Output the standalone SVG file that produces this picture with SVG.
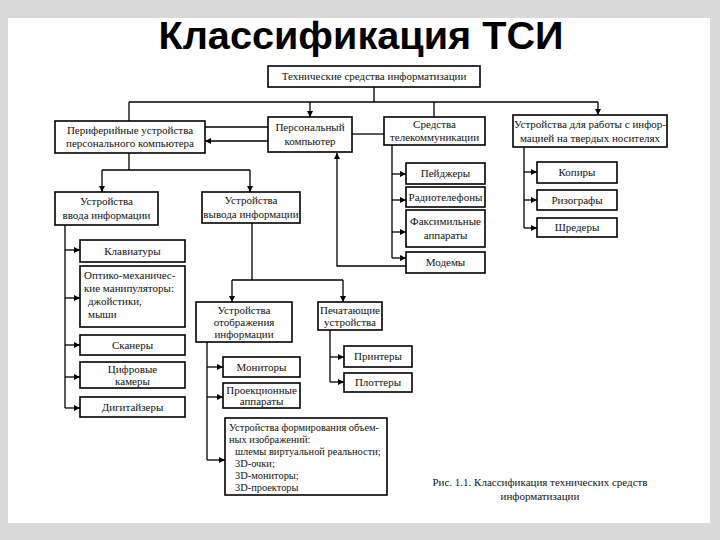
<svg xmlns="http://www.w3.org/2000/svg" width="720" height="540" viewBox="0 0 720 540">
<defs>
<marker id="ar" markerWidth="6" markerHeight="6" refX="6" refY="3" orient="auto" markerUnits="userSpaceOnUse"><path d="M0,0 L6,3 L0,6 z" fill="#000"/></marker>
<style>
.b{fill:#fff;stroke:#000;stroke-width:1.6}
.t{font-family:"Liberation Serif","Times New Roman",serif;font-size:11px;fill:#111;text-anchor:middle}
.l{font-family:"Liberation Serif","Times New Roman",serif;font-size:11px;fill:#111}
.v{font-family:"Liberation Serif","Times New Roman",serif;font-size:10.4px;fill:#111}
.c{fill:none;stroke:#000;stroke-width:1.3}
.a{marker-end:url(#ar)}
</style>
</defs>
<rect x="0" y="0" width="720" height="540" fill="#dadada"/>
<rect x="8" y="18" width="702" height="505" fill="#fff"/>
<text x="361" y="49" font-family="Liberation Sans, Arial, sans-serif" font-weight="bold" font-size="38" text-anchor="middle" textLength="405" lengthAdjust="spacingAndGlyphs" fill="#000">Классификация ТСИ</text>

<g id="connectors">
<path class="c" d="M374,87 V102 M129,102 H598 M129,102 V121"/>
<path class="c a" d="M310,102 V117"/>
<path class="c" d="M434,102 V117"/>
<path class="c a" d="M598,102 V115"/>
<path class="c" d="M205,127 H268" stroke-width="2"/>
<path class="c a" d="M268,141 H205"/>
<path class="c" d="M352,134 H384"/>
<path class="c a" d="M406,266 H337 V153"/>
<path class="c" d="M392,145 V258"/>
<path class="c a" d="M392,174 H406"/>
<path class="c a" d="M392,200 H406"/>
<path class="c a" d="M392,232 H406"/>
<path class="c a" d="M392,258 H406"/>
<path class="c" d="M524,147 V228"/>
<path class="c a" d="M524,172 H537"/>
<path class="c a" d="M524,200 H537"/>
<path class="c a" d="M524,228 H537"/>
<path class="c" d="M129,153 V170 M102,170 H250"/>
<path class="c a" d="M102,170 V192"/>
<path class="c a" d="M250,170 V192"/>
<path class="c" d="M65,225 V408"/>
<path class="c a" d="M65,250 H80"/>
<path class="c a" d="M65,298 H80"/>
<path class="c a" d="M65,345 H80"/>
<path class="c a" d="M65,377 H80"/>
<path class="c a" d="M65,408 H80"/>
<path class="c" d="M252,223 V280 M232,280 H343"/>
<path class="c a" d="M232,280 V302"/>
<path class="c a" d="M343,280 V302"/>
<path class="c" d="M207,342 V460"/>
<path class="c a" d="M207,367 H223"/>
<path class="c a" d="M207,397 H223"/>
<path class="c a" d="M207,460 H225"/>
<path class="c" d="M330,330 V382"/>
<path class="c a" d="M330,357 H344"/>
<path class="c a" d="M330,382 H344"/>
</g>

<g id="root"><rect class="b" x="268" y="66" width="212" height="21"/><text class="t" x="374" y="80">Технические средства информатизации</text></g>
<g id="periph"><rect class="b" x="55" y="121" width="150" height="32"/><text class="t" x="130" y="134">Периферийные устройства</text><text class="t" x="130" y="147">персонального компьютера</text></g>
<g id="pc"><rect class="b" x="268" y="117" width="84" height="35"/><text class="t" x="310" y="131">Персональный</text><text class="t" x="310" y="145">компьютер</text></g>
<g id="telecom"><rect class="b" x="384" y="117" width="101" height="28"/><text class="t" x="434.5" y="128">Средства</text><text class="t" x="434.5" y="141">телекоммуникации</text></g>
<g id="hard"><rect class="b" x="513" y="115" width="154" height="32"/><text class="t" x="590" y="128">Устройства для работы с инфор-</text><text class="t" x="590" y="142">мацией на твердых носителях</text></g>

<g id="pager"><rect class="b" x="406" y="163" width="79" height="21"/><text class="t" x="445.5" y="177">Пейджеры</text></g>
<g id="radio"><rect class="b" x="406" y="187" width="79" height="20"/><text class="t" x="445.5" y="201">Радиотелефоны</text></g>
<g id="fax"><rect class="b" x="406" y="210" width="79" height="37"/><text class="t" x="445.5" y="225">Факсимильные</text><text class="t" x="445.5" y="239">аппараты</text></g>
<g id="modem"><rect class="b" x="406" y="252" width="79" height="21"/><text class="t" x="445.5" y="266">Модемы</text></g>

<g id="copy"><rect class="b" x="537" y="162" width="80" height="21"/><text class="t" x="577" y="176">Копиры</text></g>
<g id="riso"><rect class="b" x="537" y="190" width="80" height="20"/><text class="t" x="577" y="204">Ризографы</text></g>
<g id="shred"><rect class="b" x="537" y="218" width="80" height="19"/><text class="t" x="577" y="231">Шредеры</text></g>

<g id="input"><rect class="b" x="55" y="192" width="103" height="33"/><text class="t" x="106.5" y="205">Устройства</text><text class="t" x="106.5" y="219">ввода информации</text></g>
<g id="output"><rect class="b" x="202" y="192" width="98" height="31"/><text class="t" x="251" y="204">Устройства</text><text class="t" x="251" y="218">вывода информации</text></g>

<g id="kbd"><rect class="b" x="80" y="240" width="105" height="22"/><text class="t" x="132.5" y="255">Клавиатуры</text></g>
<g id="manip"><rect class="b" x="80" y="266" width="105" height="61"/><text class="l" x="84" y="279">Оптико-механичес-</text><text class="l" x="84" y="292">кие манипуляторы:</text><text class="l" x="88" y="305">джойстики,</text><text class="l" x="88" y="318">мыши</text></g>
<g id="scan"><rect class="b" x="80" y="335" width="105" height="20"/><text class="t" x="132.5" y="349">Сканеры</text></g>
<g id="cam"><rect class="b" x="80" y="362" width="105" height="26"/><text class="t" x="132.5" y="373">Цифровые</text><text class="t" x="132.5" y="385">камеры</text></g>
<g id="digit"><rect class="b" x="80" y="397" width="105" height="20"/><text class="t" x="132.5" y="411">Дигитайзеры</text></g>

<g id="display"><rect class="b" x="196" y="302" width="96" height="40"/><text class="t" x="244" y="314">Устройства</text><text class="t" x="244" y="326">отображения</text><text class="t" x="244" y="338">информации</text></g>
<g id="print"><rect class="b" x="318" y="302" width="64" height="28"/><text class="t" x="350" y="314">Печатающие</text><text class="t" x="350" y="326">устройства</text></g>

<g id="monitor"><rect class="b" x="223" y="357" width="77" height="20"/><text class="t" x="261.5" y="371">Мониторы</text></g>
<g id="proj"><rect class="b" x="223" y="383" width="77" height="25"/><text class="t" x="261.5" y="394">Проекционные</text><text class="t" x="261.5" y="405">аппараты</text></g>
<g id="vol"><rect class="b" x="225" y="418" width="162" height="77"/><text class="v" x="229" y="431">Устройства формирования объем-</text><text class="v" x="229" y="443">ных изображений:</text><text class="v" x="235" y="455">шлемы виртуальной реальности;</text><text class="v" x="235" y="467">3D-очки;</text><text class="v" x="235" y="479">3D-мониторы;</text><text class="v" x="235" y="491">3D-проекторы</text></g>

<g id="printer"><rect class="b" x="344" y="346" width="68" height="21"/><text class="t" x="378" y="360">Принтеры</text></g>
<g id="plotter"><rect class="b" x="344" y="373" width="68" height="19"/><text class="t" x="378" y="386">Плоттеры</text></g>

<g id="caption"><text class="t" x="540" y="486" font-size="12">Рис. 1.1. Классификация технических средств</text><text class="t" x="540" y="500" font-size="12">информатизации</text></g>
</svg>
